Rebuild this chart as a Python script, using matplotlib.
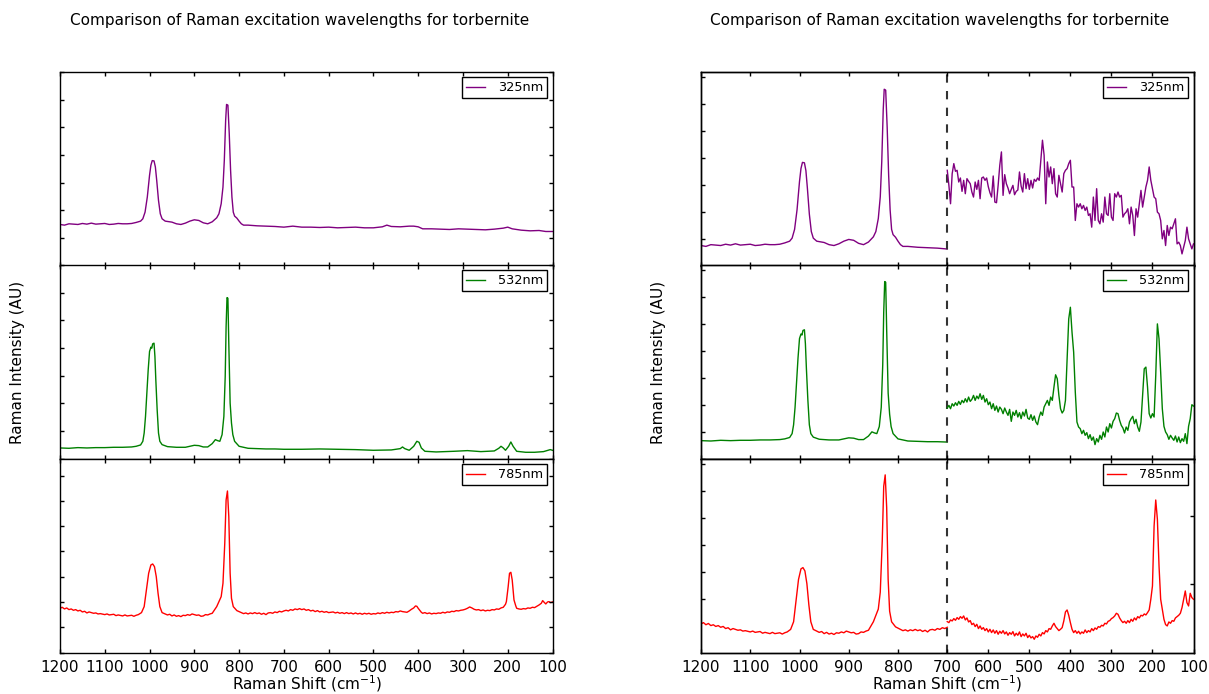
import numpy as np
import matplotlib
matplotlib.use('Agg')
import matplotlib.pyplot as plt
from matplotlib.ticker import MultipleLocator, NullFormatter

plt.style.use('classic')
plt.rcParams['figure.facecolor'] = 'white'
plt.rcParams['savefig.facecolor'] = 'white'
plt.rcParams['font.family'] = ['DejaVu Sans']
plt.rcParams['mathtext.fontset'] = 'dejavusans'

# full range spectra (1200 -> 100 cm-1), arbitrary units
shift_325 = [1200, 1190, 1180, 1170, 1160, 1150, 1140, 1130, 1120, 1110, 1100, 1090, 1080, 1070, 1060,
             1050, 1040, 1030, 1025, 1020, 1015, 1010, 1005, 1000, 997, 994, 990, 987, 984, 980, 976,
             972, 965, 960, 950, 940, 930, 920, 910, 900, 890, 880, 870, 860, 855, 850, 845, 840, 836,
             833, 830, 828, 825, 822, 819, 816, 813, 810, 805, 800, 795, 790, 780, 760, 740, 720, 700,
             680, 660, 640, 620, 600, 580, 560, 540, 520, 500, 480, 470, 460, 440, 420, 410, 400, 390,
             370, 350, 330, 310, 290, 270, 250, 230, 210, 200, 190, 170, 150, 130, 115, 100]
int_325 = [123, 121, 125, 124, 123, 126, 124, 127, 124, 125, 126, 123, 124, 126, 125,
           125, 126, 129, 131, 133, 140, 160, 205, 270, 300, 314, 313, 295, 255, 195, 155,
           140, 133, 132, 130, 125, 123, 127, 133, 137, 135, 128, 125, 131, 137, 143, 155, 185, 235,
           315, 435, 482, 480, 395, 285, 205, 160, 148, 142, 133, 125, 121, 121, 119, 118, 117, 115,
           118, 115, 115, 114, 115, 113, 114, 115, 113, 113, 116, 121, 117, 116, 118, 118, 116, 110,
           110, 109, 108, 110, 109, 108, 107, 109, 112, 115, 110, 106, 104, 105, 102, 102]

shift_532 = [1200, 1180, 1160, 1140, 1120, 1100, 1080, 1060, 1040, 1030, 1020, 1015, 1012, 1009, 1006,
             1003, 1000, 997, 995, 993, 990, 988, 986, 983, 980, 977, 972, 960, 940, 920, 900, 890,
             880, 870, 860, 853, 848, 843, 838, 834, 831, 829, 827, 825, 823, 820, 817, 814, 810, 800,
             780, 760, 740, 720, 700, 660, 620, 580, 540, 500, 460, 440, 435, 430, 420, 410, 403, 398,
             393, 385, 360, 320, 290, 260, 230, 220, 215, 210, 205, 198, 193, 188, 180, 160, 140, 120,
             105, 100]
int_532 = [32, 31, 33, 32, 33, 33, 34, 34, 35, 37, 41, 52, 77, 127, 197,
           267, 322, 335, 332, 345, 347, 307, 237, 147, 77, 52, 42, 36, 34, 34, 40, 39,
           35, 35, 45, 57, 54, 52, 72, 127, 247, 397, 484, 482, 347, 167, 107, 72, 52, 37,
           31, 30, 29, 29, 28, 28, 29, 28, 27, 25, 26, 30, 35, 30, 25, 37, 52, 49,
           32, 22, 20, 22, 24, 21, 23, 31, 37, 32, 25, 37, 50, 37, 22, 19, 19, 21,
           27, 25]

shift_785 = [1200, 1195, 1190, 1185, 1180, 1175, 1170, 1165, 1160, 1155,
             1150, 1145, 1140, 1135, 1130, 1125, 1120, 1115, 1110, 1100,
             1095, 1090, 1080, 1075, 1070, 1060, 1055, 1050, 1040, 1035,
             1030, 1025, 1018, 1012, 1007, 1002, 997, 993, 989, 985,
             981, 977, 972, 965, 960, 955, 950, 945, 940, 935,
             930, 925, 920, 915, 910, 905, 900, 895, 890, 885,
             880, 875, 870, 865, 860, 850, 845, 840, 836, 832,
             829, 826, 823, 820, 817, 813, 805, 800, 795, 790,
             785, 780, 775, 770, 765, 760, 755, 750, 745, 740,
             735, 730, 725, 720, 715, 710, 705, 700, 695, 690,
             685, 680, 675, 670, 665, 660, 655, 650, 645, 640,
             635, 630, 625, 620, 615, 610, 605, 600, 590, 585,
             580, 575, 570, 565, 560, 555, 550, 545, 540, 535,
             530, 525, 520, 515, 510, 505, 500, 495, 490, 485,
             480, 475, 470, 465, 460, 455, 450, 445, 440, 435,
             430, 425, 420, 415, 410, 406, 403, 400, 397, 393,
             390, 385, 380, 375, 370, 365, 360, 355, 350, 345,
             340, 335, 330, 325, 320, 315, 310, 305, 300, 295,
             290, 285, 280, 275, 270, 265, 260, 255, 250, 245,
             240, 235, 230, 225, 220, 215, 210, 205, 203, 199,
             196, 193, 190, 186, 182, 180, 175, 170, 165, 160,
             155, 150, 145, 140, 135, 130, 125, 122, 118, 115,
             111, 108, 104, 100]
int_785 = [133, 136, 131, 134, 129, 131, 127, 129, 125, 127,
           122, 124, 119, 122, 120, 118, 119, 116, 117, 114,
           116, 113, 115, 111, 113, 110, 113, 110, 112, 109,
           112, 114, 120, 138, 188, 238, 263, 266, 258, 228,
           178, 138, 120, 116, 113, 115, 110, 113, 109, 111,
           108, 112, 111, 114, 112, 116, 114, 112, 113, 109,
           110, 114, 113, 116, 118, 138, 153, 168, 208, 328,
           458, 485, 408, 238, 163, 138, 126, 123, 120, 117,
           119, 116, 119, 117, 120, 117, 119, 115, 118, 114,
           119, 120, 118, 122, 120, 124, 122, 125, 127, 125,
           129, 127, 131, 129, 132, 129, 131, 127, 129, 125,
           127, 123, 126, 122, 124, 121, 123, 120, 122, 119,
           121, 118, 120, 117, 120, 117, 119, 116, 119, 116,
           118, 115, 118, 116, 118, 115, 117, 116, 119, 117,
           120, 118, 121, 119, 121, 120, 123, 122, 125, 123,
           122, 121, 125, 130, 134, 140, 139, 133, 128, 121,
           118, 120, 117, 119, 116, 118, 117, 119, 118, 121,
           119, 122, 121, 124, 123, 126, 125, 127, 128, 130,
           133, 137, 134, 130, 128, 129, 126, 128, 125, 127,
           126, 129, 128, 131, 130, 134, 136, 145, 153, 198,
           238, 241, 218, 158, 140, 133, 131, 130, 132, 131,
           134, 133, 136, 135, 139, 143, 148, 156, 150, 146,
           152, 153, 150, 152]

# low wavenumber region (700 -> 100 cm-1), separately scaled
low_shift = [700, 696, 692, 688, 684, 680, 676, 672, 668, 664,
             660, 656, 652, 648, 644, 640, 636, 632, 628, 624,
             620, 616, 612, 608, 604, 600, 596, 592, 588, 584,
             580, 576, 572, 568, 564, 560, 556, 552, 548, 544,
             540, 536, 532, 528, 524, 520, 516, 512, 508, 504,
             500, 496, 492, 488, 484, 480, 476, 472, 468, 464,
             460, 456, 452, 448, 444, 440, 436, 432, 428, 424,
             420, 416, 412, 408, 404, 400, 396, 392, 388, 384,
             380, 376, 372, 368, 364, 360, 356, 352, 348, 344,
             340, 336, 332, 328, 324, 320, 316, 312, 308, 304,
             300, 296, 292, 288, 284, 280, 276, 272, 268, 264,
             260, 256, 252, 248, 244, 240, 236, 232, 228, 224,
             220, 216, 212, 208, 204, 200, 196, 192, 188, 184,
             180, 176, 172, 168, 164, 160, 156, 152, 148, 144,
             140, 136, 132, 128, 124, 120, 116, 112, 108, 104,
             100]
low_325 = [285, 240, 185, 275, 305, 282, 285, 250, 262, 222,
           255, 215, 260, 252, 245, 220, 205, 250, 228, 255,
           200, 262, 265, 255, 262, 236, 218, 205, 268, 190,
           188, 240, 300, 340, 210, 272, 245, 232, 215, 228,
           240, 212, 222, 226, 280, 238, 220, 275, 230, 260,
           228, 255, 232, 258, 252, 262, 255, 315, 375, 330,
           185, 310, 265, 295, 245, 290, 215, 205, 270, 245,
           220, 275, 285, 290, 305, 315, 235, 235, 135, 185,
           175, 185, 170, 180, 165, 175, 150, 155, 115, 205,
           135, 230, 135, 125, 155, 130, 205, 155, 150, 215,
           145, 135, 215, 205, 220, 205, 210, 145, 155, 160,
           170, 125, 175, 150, 90, 170, 145, 185, 225, 175,
           205, 235, 255, 295, 255, 230, 205, 200, 160, 155,
           135, 80, 105, 60, 120, 90, 115, 110, 125, 140,
           65, 70, 60, 35, 55, 75, 115, 80, 65, 50,
           65]
low_532 = [152, 160, 150, 165, 158, 168, 160, 172, 163, 175,
           168, 180, 170, 185, 172, 178, 190, 175, 188, 180,
           195, 178, 190, 170, 180, 162, 170, 150, 165, 145,
           158, 140, 155, 148, 135, 152, 140, 130, 148, 112,
           140, 130, 145, 125, 138, 120, 140, 128, 148, 122,
           118, 132, 115, 128, 110, 102, 125, 140, 130, 155,
           165, 175, 160, 185, 175, 215, 252, 240, 190, 150,
           137, 145, 175, 300, 420, 455, 380, 320, 200, 110,
           95, 90, 75, 85, 70, 78, 60, 72, 55, 65,
           42, 60, 50, 70, 58, 80, 65, 95, 80, 105,
           92, 112, 120, 137, 135, 115, 100, 92, 77, 95,
           85, 110, 120, 127, 105, 118, 95, 82, 110, 190,
           270, 275, 215, 135, 122, 135, 125, 250, 405, 360,
           260, 150, 97, 80, 72, 58, 70, 62, 55, 68,
           50, 65, 48, 60, 52, 75, 45, 97, 120, 162,
           158]
low_785 = [93, 90, 98, 95, 102, 97, 105, 100, 108, 103,
           110, 98, 104, 92, 96, 84, 88, 78, 85, 72,
           80, 70, 75, 66, 72, 62, 70, 60, 68, 58,
           66, 55, 64, 58, 66, 56, 62, 52, 60, 55,
           63, 50, 58, 52, 62, 48, 56, 50, 58, 45,
           52, 44, 48, 40, 50, 46, 55, 50, 60, 56,
           66, 62, 72, 70, 80, 88, 78, 72, 66, 70,
           75, 95, 122, 128, 112, 90, 70, 60, 66, 58,
           64, 56, 62, 58, 68, 60, 66, 62, 72, 66,
           74, 70, 78, 76, 82, 80, 88, 86, 94, 96,
           102, 105, 110, 118, 115, 104, 96, 90, 94, 88,
           96, 90, 100, 94, 104, 98, 108, 104, 112, 110,
           116, 113, 120, 128, 160, 200, 380, 458, 400, 260,
           160, 130, 100, 84, 80, 92, 88, 96, 94, 104,
           108, 112, 118, 135, 160, 185, 150, 140, 178, 165,
           160]

labels = ['325nm', '532nm', '785nm']
colors = ['purple', 'green', 'red']
title = 'Comparison of Raman excitation wavelengths for torbernite'

full = [(shift_325, int_325), (shift_532, int_532), (shift_785, int_785)]
low = [low_325, low_532, low_785]

left_ylim = [(0, 579), (0, 582), (0, 581)]
left_ystep = [82.7, 83.1, 75.9]
right_ylim = [(76.9, 521.6), (-19, 531), (65.2, 522.5)]
right_tick_k = [range(0, 8), range(0, 8), range(2, 8)]
twin_ylim = [(0, 579), (0, 582), (0, 581)]
twin_ticks = [[], [], [206, 410]]

W, H = 1209, 694
fig = plt.figure(figsize=(W / 100, H / 100), dpi=100)
row_top = [72, 265, 459]
row_h = 193.6
col_x = [60, 701]
col_w = 492.5

tick_fs = 11
leg_fs = 9.3


def brk_fwd(x):
    x = np.asarray(x, dtype=float)
    return np.where(x > 700, 700 + (x - 700) * 1.2, x)


def brk_inv(y):
    y = np.asarray(y, dtype=float)
    return np.where(y > 700, 700 + (y - 700) / 1.2, y)


def style_axes(ax, bottom_row):
    ax.set_xlim(1200, 100)
    ax.xaxis.set_major_locator(MultipleLocator(100))
    ax.yaxis.set_major_formatter(NullFormatter())
    ax.tick_params(which='major', length=3, width=1, labelsize=tick_fs, pad=5)
    ax.tick_params(which='minor', length=0)
    if not bottom_row:
        ax.xaxis.set_major_formatter(NullFormatter())


for col in range(2):
    for i in range(3):
        rect = [col_x[col] / W, 1 - (row_top[i] + row_h) / H, col_w / W, row_h / H]
        ax = fig.add_axes(rect)
        sx = np.array(full[i][0])
        sy = np.array(full[i][1])
        if col == 0:
            ax.plot(sx, sy, color=colors[i], lw=1.0, label=labels[i])
            style_axes(ax, i == 2)
            ax.set_ylim(left_ylim[i])
            ax.yaxis.set_major_locator(MultipleLocator(left_ystep[i]))
        else:
            ax.set_xscale('function', functions=(brk_fwd, brk_inv))
            m = sx >= 700
            ax.plot(sx[m], sy[m], color=colors[i], lw=1.0, label=labels[i])
            ax.axvline(700, color='#333333', ls='--', lw=1.5)
            style_axes(ax, i == 2)
            lo, hi = right_ylim[i]
            ax.set_ylim(lo, hi)
            ax.set_yticks([lo + k * 0.1393 * (hi - lo) for k in right_tick_k[i]])
            ax.yaxis.set_major_formatter(NullFormatter())
            tw = ax.twinx()
            tw.plot(low_shift, low[i], color=colors[i], lw=1.0)
            tw.set_ylim(twin_ylim[i])
            tw.set_yticks(twin_ticks[i])
            tw.yaxis.set_major_formatter(NullFormatter())
            tw.tick_params(which='major', length=3, width=1)
            tw.tick_params(which='minor', length=0)
            tw.set_xlim(1200, 100)
        leg = ax.legend(loc='upper right', fontsize=leg_fs, handlelength=1.5,
                        borderaxespad=0.4, borderpad=0.3, handletextpad=1.0,
                        numpoints=1, fancybox=False)
        leg.get_frame().set_linewidth(1.0)
        leg.get_frame().set_edgecolor('black')

for cx, tx in zip([307, 947], [299.5, 940]):
    fig.text(tx / W, 1 - 20 / H, title, ha='center', va='center', fontsize=tick_fs)
    fig.text(cx / W, 1 - 684 / H, r'Raman Shift (cm$^{-1}$)', ha='center', va='center',
             fontsize=tick_fs)
for lx in [18, 659]:
    fig.text(lx / W, 1 - 362 / H, 'Raman Intensity (AU)', rotation=90, ha='center',
             va='center', fontsize=tick_fs)

fig.savefig('out.png', dpi=100)
